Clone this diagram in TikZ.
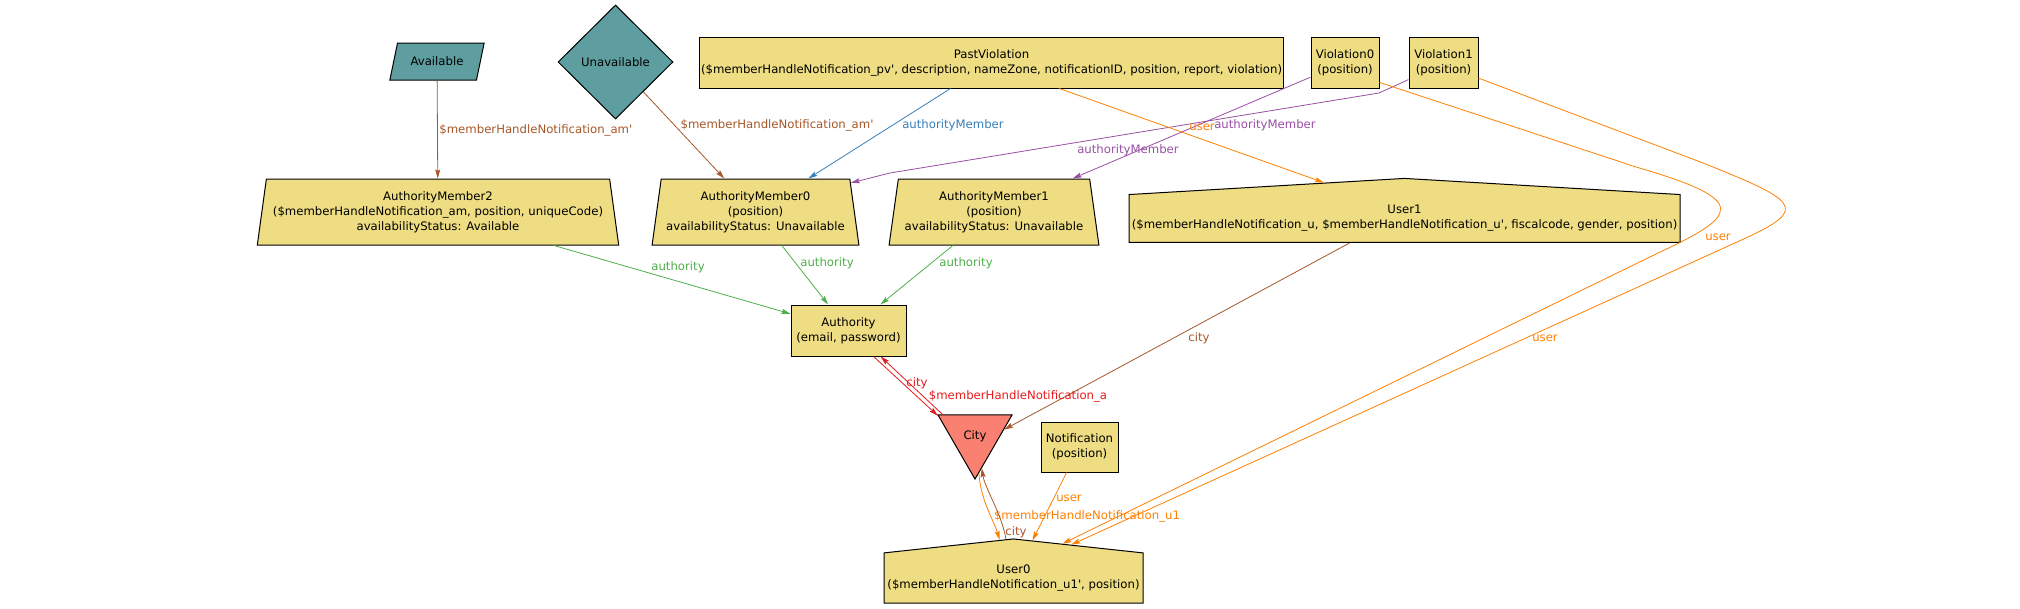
\documentclass[tikz,border=0pt]{standalone}
\usepackage{fontspec}
\setmainfont{DejaVu Sans}
\usetikzlibrary{arrows.meta}
\tikzset{%
 >={Stealth[length=9pt, width=5pt, inset=1.5pt]}
}
\usetikzlibrary{shapes.geometric,shapes.symbols}

\definecolor{khaki}{RGB}{238,221,130}
\definecolor{cadet}{RGB}{95,158,160}
\definecolor{salmon}{RGB}{250,128,114}
\definecolor{ebrown}{RGB}{166,86,40}
\definecolor{eblue}{RGB}{55,126,184}
\definecolor{epurple}{RGB}{152,78,163}
\definecolor{eorange}{RGB}{255,127,0}
\definecolor{egreen}{RGB}{77,175,74}
\definecolor{ered}{RGB}{228,26,28}

\begin{document}
\begin{tikzpicture}[x=1pt, y=-1pt,
 font=\fontsize{11.7}{15}\selectfont,
 obj/.style={draw, line width=1pt, fill=khaki, align=center, inner sep=2pt},
 val/.style={draw, line width=1pt, fill=cadet, inner sep=2pt},
 member/.style={obj, trapezium, trapezium left angle=79, trapezium right angle=79, trapezium stretches, minimum height=66pt},
 usr/.style={obj, signal, signal to=north, signal from=nowhere, minimum height=64pt},
 link/.style={->, line width=.8pt},
 lbl/.style={inner sep=0pt}]
 \useasboundingbox (0,0) rectangle (2020,608);

 \node [val, trapezium, trapezium left angle=67, trapezium right angle=113, trapezium stretches, minimum width=95pt, minimum height=37pt] (avail) at (437,61.5) {Available};
 \node [val, diamond, minimum width=115pt, minimum height=114pt] (unavail) at (615.5,62) {Unavailable};
 \node [obj, minimum width=577pt, minimum height=51pt] (pv) at (991.5,62.5) {PastViolation\\(\$memberHandleNotification\_pv\textquotesingle, description, nameZone, notificationID, position, report, violation)};
 \node [obj, minimum width=68pt, minimum height=51pt] (v0) at (1345,62.5) {Violation0\\(position)};
 \node [obj, minimum width=69pt, minimum height=51pt] (v1) at (1443.5,62.5) {Violation1\\(position)};
 \node [member, minimum width=362pt] (am2) at (438,212) {AuthorityMember2\\(\$memberHandleNotification\_am, position, uniqueCode)\\availabilityStatus: Available};
 \node [member, minimum width=207pt] (am0) at (755.5,212) {AuthorityMember0\\(position)\\availabilityStatus: Unavailable};
 \node [member, minimum width=210pt] (am1) at (994,212) {AuthorityMember1\\(position)\\availabilityStatus: Unavailable};
 \node [usr, minimum width=551pt, signal pointer angle=173.3] (u1) at (1404.5,218.5) {User1\\(\$memberHandleNotification\_u, \$memberHandleNotification\_u\textquotesingle, fiscalcode, gender, position)};
 \node [obj, minimum width=115pt, minimum height=51pt] (auth) at (848.5,330.5) {Authority\\(email, password)};
 \node [draw, line width=1pt, fill=salmon, regular polygon, regular polygon sides=3, shape border rotate=180, minimum size=85.5pt, inner sep=0pt] (city) at (975,436.3) {City};
 \node [obj, minimum width=77pt, minimum height=50pt] (notif) at (1079.5,447) {Notification\\(position)};
 \node [usr, minimum width=259pt, signal pointer angle=167.7] (u0) at (1013.5,578) {User0\\(\$memberHandleNotification\_u1\textquotesingle, position)};

 \draw [link, ebrown] (avail) -- (am2) node at (439,130) [lbl, anchor=west] {\$memberHandleNotification\_am\textquotesingle};
 \draw [link, ebrown] (unavail) -- (am0) node at (777,125) [lbl] {\$memberHandleNotification\_am\textquotesingle};
 \draw [link, eblue] (pv) -- (am0) node at (953,125) [lbl] {authorityMember};
 \draw [link, epurple] (v0) -- (am1) node at (1128,150) [lbl] {authorityMember};
 \draw [link, epurple] (v1.206) -- (1379,93) -- (890,173) -- (am0.17) node at (1265,125) [lbl] {authorityMember};
 \draw [link, eorange] (pv.-21) -- (u1.156) node at (1202,127) [lbl] {user};
 \draw [link, eorange] (v0.-30) -- (1636,167) .. controls (1750,200) and (1740,215) .. (1658,253) -- (u0.35) node at (1718,237) [lbl] {user};
 \draw [link, eorange] (v1.-24) -- (1703,163) .. controls (1795,200) and (1810,208) .. (1748,237) -- (u0.30) node at (1545,338) [lbl] {user};
 \draw [link, ebrown] (u1.204) -- (city.13) node at (1199,338) [lbl] {city};
 \draw [link, ered] (auth.-46) -- (city.151) node at (917,383) [lbl] {city};
 \draw [link, ered] (city.146) -- (auth.-39) node at (1018,396) [lbl] {\$memberHandleNotification\_a};
 \draw [link, eorange] (city.-84) .. controls +(2,28) and +(-6,-20) .. (u0.110) node at (1087,516) [lbl] {\$memberHandleNotification\_u1};
 \draw [link, ebrown] (u0.101) .. controls +(-4,-25) and +(3,20) .. (city.-78) node at (1016,532) [lbl] {city};
 \draw [link, eorange] (notif) -- (u0) node at (1069,498) [lbl] {user};
 \draw [link, egreen] (am2) -- (auth) node at (678,267) [lbl] {authority};
 \draw [link, egreen] (am0) -- (auth) node at (827,263) [lbl] {authority};
 \draw [link, egreen] (am1) -- (auth) node at (966,263) [lbl] {authority};
\end{tikzpicture}
\end{document}
